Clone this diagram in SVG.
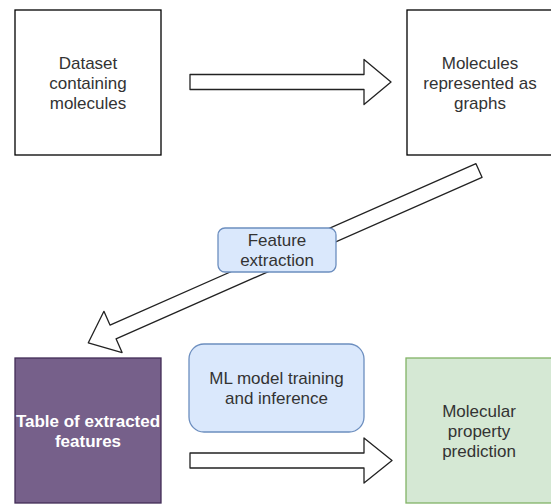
<svg xmlns="http://www.w3.org/2000/svg" width="551" height="504" viewBox="0 0 551 504">
<style>
.box{fill:#ffffff;stroke:#000000;stroke-width:1.3}
.blue{fill:#dae8fc;stroke:#6c8ebf;stroke-width:1.3}
.purple{fill:#76608a;stroke:#432d57;stroke-width:1.3}
.green{fill:#d5e8d4;stroke:#82b366;stroke-width:1.3}
.arrow{fill:#ffffff;stroke:#222222;stroke-width:1.3;stroke-linejoin:round}
text{font-family:"Liberation Sans",Arial,sans-serif;font-size:17px;fill:#333333;text-anchor:middle}
.w{fill:#ffffff;font-weight:bold}
</style>
<rect width="551" height="504" fill="#ffffff"/>
<g id="connectors">
<path class="arrow" d="M190,74.5 H364 V59.5 L391,82 L364,104.5 V89.5 H190 Z"/>
<path class="arrow" transform="translate(479,170.5) rotate(156.2)" d="M0,-7.5 H400 V-22.5 L427,0 L400,22.5 V7.5 H0 Z"/>
<path class="arrow" d="M190,453 H364 V438 L392,460.5 L364,483 V468 H190 Z"/>
</g>
<g id="dataset">
<rect class="box" x="15" y="10" width="146" height="145"/>
<text x="88" y="68.5">Dataset</text>
<text x="88" y="88.5">containing</text>
<text x="88" y="108.5">molecules</text>
</g>
<g id="graphs">
<rect class="box" x="407" y="10" width="146" height="145"/>
<text x="480" y="68.5">Molecules</text>
<text x="480" y="88.5">represented as</text>
<text x="480" y="108.5">graphs</text>
</g>
<g id="feature-extraction">
<rect class="blue" x="218" y="228" width="118" height="44" rx="7"/>
<text x="277" y="246">Feature</text>
<text x="277" y="266">extraction</text>
</g>
<g id="ml-model">
<rect class="blue" x="189" y="344" width="175" height="88" rx="15"/>
<text x="276.5" y="384">ML model training</text>
<text x="276.5" y="404">and inference</text>
</g>
<g id="table">
<rect class="purple" x="15" y="358" width="146" height="145"/>
<text class="w" x="88" y="426.5">Table of extracted</text>
<text class="w" x="88" y="446.5">features</text>
</g>
<g id="prediction">
<rect class="green" x="406" y="358" width="147" height="145"/>
<text x="479" y="416.5">Molecular</text>
<text x="479" y="436.5">property</text>
<text x="479" y="456.5">prediction</text>
</g>
</svg>
